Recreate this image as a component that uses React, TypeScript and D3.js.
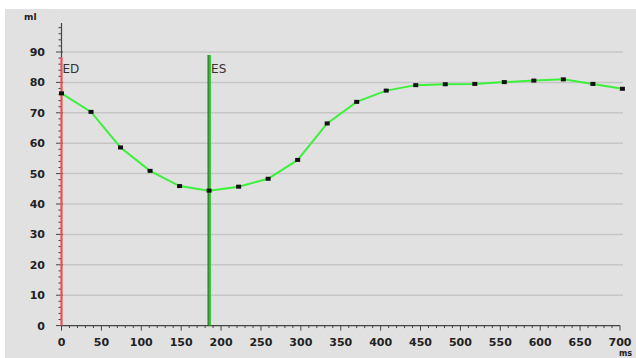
import React, { useEffect, useRef } from "react";
import * as d3 from "d3";

// volume curve, ms vs ml
const timesMs = [0, 37, 74, 111, 148, 185, 222, 259, 296, 333, 370, 407, 444, 481, 518, 555, 592, 629, 666, 703];
const volumeMl = [76.4, 70.3, 58.6, 50.9, 45.9, 44.4, 45.7, 48.3, 54.5, 66.5, 73.6, 77.3, 79.1, 79.4, 79.5, 80.1, 80.6, 81.0, 79.5, 77.9];
const xTicks = [0, 50, 100, 150, 200, 250, 300, 350, 400, 450, 500, 550, 600, 650, 700];
const yTicks = [0, 10, 20, 30, 40, 50, 60, 70, 80, 90];
const edMs = 0;
const esMs = 185;

const W = 636, H = 358;

function Chart() {
  const ref = useRef<SVGSVGElement>(null);

  useEffect(() => {
    const svg = d3.select(ref.current);
    svg.selectAll("*").remove();

    const x = d3.scaleLinear().domain([0, 700]).range([61.5, 620]);
    const y = d3.scaleLinear().domain([0, 90]).range([325.6, 52]);
    const font = "'DejaVu Sans', Verdana, sans-serif";

    svg.append("rect").attr("width", W).attr("height", H).attr("fill", "#fff");
    svg.append("rect").attr("x", 5).attr("y", 9).attr("width", W - 5).attr("height", H - 9).attr("fill", "#e1e1e1");

    // grid
    svg.append("g").selectAll("line")
      .data(yTicks.filter(d => d > 0))
      .enter().append("line")
      .attr("x1", x(0)).attr("x2", 623)
      .attr("y1", d => y(d)).attr("y2", d => y(d))
      .attr("stroke", "#c6c6c6").attr("stroke-width", 1.5);

    // y axis
    const ax = svg.append("g").attr("stroke", "#444");
    ax.append("line").attr("x1", x(0)).attr("x2", x(0)).attr("y1", y(99.5)).attr("y2", y(0)).attr("stroke-width", 1.2);
    ax.selectAll("line.ym").data(d3.range(0, 100, 2)).enter().append("line")
      .attr("class", "ym")
      .attr("x1", d => (d % 10 === 0 ? 56 : 58.5)).attr("x2", d => (d % 10 === 0 ? 63 : 61))
      .attr("y1", d => y(d)).attr("y2", d => y(d)).attr("stroke-width", 1);

    // x axis
    ax.append("line").attr("x1", x(0)).attr("x2", x(700)).attr("y1", y(0)).attr("y2", y(0)).attr("stroke-width", 1.2);
    ax.selectAll("line.xm").data(d3.range(0, 701, 10)).enter().append("line")
      .attr("class", "xm")
      .attr("x1", d => x(d)).attr("x2", d => x(d))
      .attr("y1", y(0)).attr("y2", d => y(0) + (d % 50 === 0 ? 5 : 2.5)).attr("stroke-width", 1);

    svg.append("g").selectAll("text").data(yTicks).enter().append("text")
      .attr("x", 45).attr("y", d => y(d) + 4)
      .attr("text-anchor", "end").attr("font-family", font).attr("font-size", 11).attr("font-weight", "bold")
      .attr("fill", "#222").text(d => d);

    svg.append("g").selectAll("text").data(xTicks).enter().append("text")
      .attr("x", d => x(d)).attr("y", 346)
      .attr("text-anchor", "middle").attr("font-family", font).attr("font-size", 11).attr("font-weight", "bold")
      .attr("fill", "#222").text(d => d);

    svg.append("text").attr("x", 24).attr("y", 20).attr("font-family", font).attr("font-size", 9)
      .attr("font-weight", "bold").attr("fill", "#222").text("ml");
    svg.append("text").attr("x", 619).attr("y", 356).attr("font-family", font).attr("font-size", 8)
      .attr("font-weight", "bold").attr("fill", "#222").text("ms");

    // ED / ES markers
    svg.append("line").attr("x1", x(edMs)).attr("x2", x(edMs)).attr("y1", 57).attr("y2", y(0))
      .attr("stroke", "#ff4a4a").attr("stroke-width", 2);
    svg.append("line").attr("x1", x(esMs) + 0.5).attr("x2", x(esMs) + 0.5).attr("y1", 55).attr("y2", y(0))
      .attr("stroke", "#22c822").attr("stroke-width", 2.5);
    svg.append("line").attr("x1", x(esMs) - 1).attr("x2", x(esMs) - 1).attr("y1", 55).attr("y2", y(0))
      .attr("stroke", "#145a14").attr("stroke-width", 1);

    svg.append("text").attr("x", x(edMs) + 1).attr("y", 73).attr("font-family", font).attr("font-size", 12)
      .attr("fill", "#333").text("ED");
    svg.append("text").attr("x", x(esMs) + 2).attr("y", 73).attr("font-family", font).attr("font-size", 12)
      .attr("fill", "#333").text("ES");

    // curve
    const pts = timesMs.map((t, i) => [t, volumeMl[i]] as [number, number]);
    const line = d3.line<[number, number]>().x(d => x(d[0])).y(d => y(d[1]));
    svg.append("path").datum(pts).attr("d", line).attr("fill", "none")
      .attr("stroke", "#3cf03c").attr("stroke-width", 2);

    svg.append("g").selectAll("rect").data(pts).enter().append("rect")
      .attr("x", d => x(d[0]) - 2.5).attr("y", d => y(d[1]) - 2)
      .attr("width", 5).attr("height", 4).attr("fill", "#111");
  }, []);

  return <svg ref={ref} width={W} height={H} style={{ position: "absolute", left: 0, top: 0 }} />;
}

export default function App() {
  return <Chart />;
}
